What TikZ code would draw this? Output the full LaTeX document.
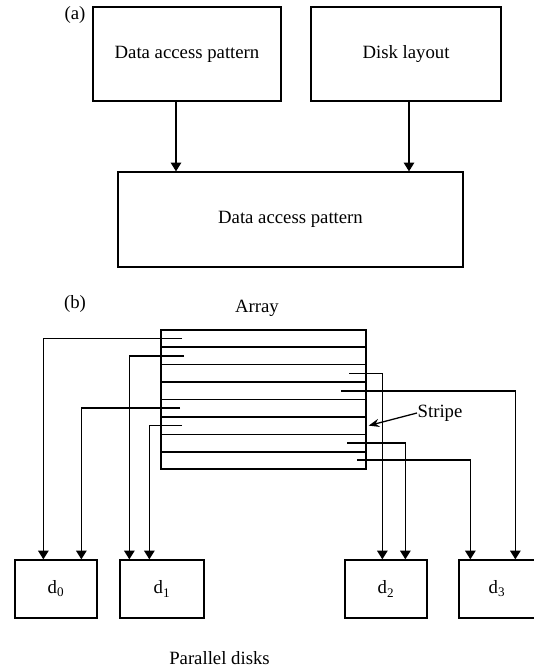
\documentclass[tikz,border=0pt]{standalone}
\usepackage{fontspec}
\setmainfont{Liberation Serif}
\usetikzlibrary{positioning,calc,arrows.meta}

\begin{document}
\begin{tikzpicture}[x=0.03cm, y=-0.03cm, ->, >={Triangle[length=7.5pt,width=9pt]}, line width=1.1pt, font=\fontsize{16}{18}\selectfont, box/.style = {draw, rectangle, minimum height=2.82cm, inner sep=0pt}, disk/.style = {draw, rectangle, minimum width=2.46cm, minimum height=1.74cm, inner sep=0pt}, txt/.style = {inner sep=0pt}]

\useasboundingbox (0,0) rectangle (534,668);

% (a) the three blocks
\node[txt] (la) at (75,15) {(a)};
\node[box, minimum width=5.64cm] (pat) at (187,54) {Data access pattern};
\node[box, minimum width=5.7cm] (lay) at (406,54) {Disk layout};
\node[box, minimum width=10.35cm, minimum height=2.85cm] (res) at (290.5,219.5) {Data access pattern};

\draw ([xshift=-0.33cm]pat.south) -- ([xshift=-0.33cm]pat.south |- res.north);
\draw ([xshift=0.09cm]lay.south) -- ([xshift=0.09cm]lay.south |- res.north);

% (b) the striped array
\node[txt] (lb) at (75,304) {(b)};
\node[txt] (arrname) at (257,308) {Array};
\node[draw, rectangle, line width=1.2pt, minimum width=6.15cm, minimum height=4.17cm, inner sep=0pt] (arr) at (263.5,399.5) {};
\foreach \i in {1,...,7}
  \draw[-, line width=1.2pt] ($(arr.north west)!\i/8!(arr.south west)$) -- ($(arr.north east)!\i/8!(arr.south east)$);

\coordinate (r1) at (182,338.7);
\coordinate (r2) at (184,356);
\coordinate (r3) at (349,373.4);
\coordinate (r4) at (341,391);
\coordinate (r5) at (180,408);
\coordinate (r6) at (182,425.6);
\coordinate (r7) at (347,443);
\coordinate (r8) at (357,460);

% disks
\node[disk] (d0) at (56,589) {d\textsubscript{0}};
\node[disk, minimum width=2.52cm] (d1) at (162,589) {d\textsubscript{1}};
\node[disk] (d2) at (386,589) {d\textsubscript{2}};
\node[disk, minimum width=2.28cm] (d3) at (497,589) {d\textsubscript{3}};
\node[txt] (par) at (219.5,658) {Parallel disks};

\draw (r1) -| ($(d0.north west)+(29,0)$);
\draw (r5) -| ($(d0.north west)+(67,0)$);
\draw (r2) -| ($(d1.north west)+(10,0)$);
\draw (r6) -| ($(d1.north west)+(30,0)$);
\draw (r3) -| ($(d2.north west)+(38,0)$);
\draw (r7) -| ($(d2.north west)+(61,0)$);
\draw (r8) -| ($(d3.north west)+(12,0)$);
\draw (r4) -| ($(d3.north west)+(57,0)$);

\node[txt, anchor=west] (stripe) at (417,413) {Stripe};
\draw[-{Stealth[length=9pt,width=7pt]}] (stripe.west) -- ($(arr.east |- r6)+(2,0)$);
\end{tikzpicture}
\end{document}
